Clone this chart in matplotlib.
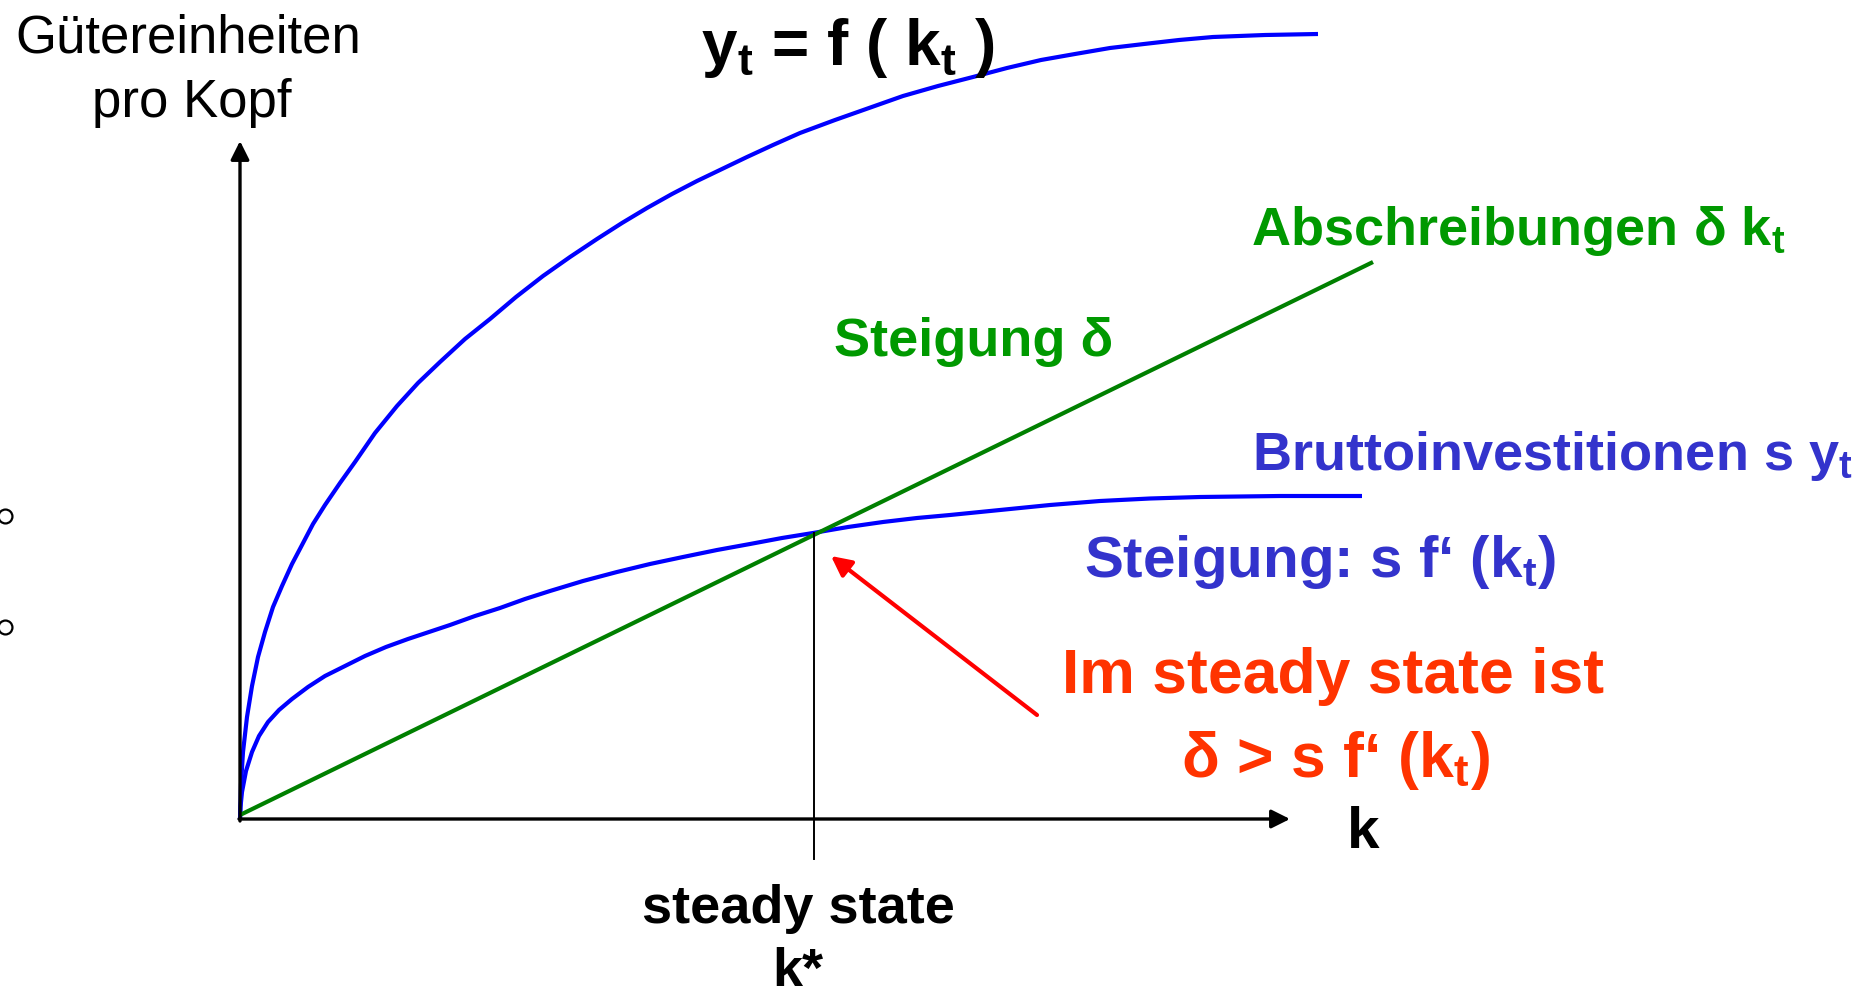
import matplotlib
matplotlib.use('Agg')
import matplotlib.pyplot as plt

plt.rcParams['font.family'] = ['Liberation Sans', 'DejaVu Sans']
plt.rcParams['mathtext.fontset'] = 'custom'
plt.rcParams['mathtext.rm'] = 'Liberation Sans:bold'
plt.rcParams['mathtext.it'] = 'Liberation Sans:bold'
plt.rcParams['mathtext.bf'] = 'Liberation Sans:bold'

# production function y = f(k)
k_prod = [0, 0.01, 0.03, 0.07, 0.12, 0.18, 0.25, 0.33, 0.42, 0.52, 0.62, 0.73,
          0.85, 1.00, 1.15, 1.35, 1.57, 1.78, 2.00, 2.25, 2.50, 2.76, 3.03,
          3.30, 3.57, 3.82, 4.07, 4.32, 4.57, 4.82, 5.07, 5.33, 5.60, 5.95,
          6.29, 6.63, 6.98, 7.33, 7.67, 8.01, 8.35, 8.70, 9.04, 9.39, 9.73,
          10.25, 10.78]
y_prod = [0, 0.35, 0.67, 1.02, 1.33, 1.62, 1.87, 2.12, 2.33, 2.55, 2.74, 2.95,
          3.14, 3.36, 3.57, 3.86, 4.13, 4.36, 4.57, 4.80, 5.00, 5.22, 5.43,
          5.62, 5.80, 5.96, 6.11, 6.25, 6.38, 6.50, 6.62, 6.74, 6.86, 6.99,
          7.11, 7.23, 7.33, 7.42, 7.51, 7.59, 7.65, 7.71, 7.75, 7.79, 7.82,
          7.84, 7.85]

# gross investment s*y
k_inv = [0, 0.005, 0.02, 0.06, 0.12, 0.19, 0.28, 0.39, 0.52, 0.68, 0.85, 1.05,
         1.25, 1.46, 1.68, 1.89, 2.10, 2.35, 2.60, 2.85, 3.10, 3.43, 3.77,
         4.10, 4.43, 4.77, 5.10, 5.42, 5.73, 6.08, 6.43, 6.77, 7.10, 7.60,
         8.10, 8.60, 9.10, 9.60, 10.40, 11.22]
y_inv = [0, 0.12, 0.27, 0.48, 0.67, 0.83, 0.97, 1.09, 1.20, 1.32, 1.43, 1.53,
         1.63, 1.72, 1.80, 1.87, 1.94, 2.03, 2.11, 2.20, 2.28, 2.38, 2.47,
         2.55, 2.62, 2.69, 2.75, 2.81, 2.86, 2.92, 2.97, 3.01, 3.04, 3.09,
         3.14, 3.18, 3.205, 3.22, 3.23, 3.23]

# depreciation delta*k
k_dep = [0, 11.33]
y_dep = [0.04, 5.57]

k_star = 5.74
y_star = 2.86

fig = plt.figure(figsize=(18.6, 9.95), dpi=100)
ax = fig.add_axes([0, 0, 1, 1])
ax.set_xlim(-2.40, 16.20)
ax.set_ylim(-1.75, 8.20)
ax.axis('off')

ax.plot(k_prod, y_prod, color='#0000FF', lw=3.0, solid_capstyle='butt',
        solid_joinstyle='round')
ax.plot(k_inv, y_inv, color='#0000FF', lw=3.0, solid_capstyle='butt',
        solid_joinstyle='round')
ax.plot(k_dep, y_dep, color='#008000', lw=3.0, solid_capstyle='butt')
ax.plot([k_star, k_star], [y_star, -0.40], color='black', lw=1.4)

# axes with arrow heads
ax.annotate('', xy=(0, 6.78), xytext=(0, -0.02),
            arrowprops=dict(arrowstyle='-|>', lw=2.4, color='black',
                            mutation_scale=28, shrinkA=0, shrinkB=0))
ax.annotate('', xy=(10.50, 0), xytext=(-0.01, 0),
            arrowprops=dict(arrowstyle='-|>', lw=2.4, color='black',
                            mutation_scale=28, shrinkA=0, shrinkB=0))

# red arrow to the steady state
ax.annotate('', xy=(5.91, 2.63), xytext=(7.97, 1.04),
            arrowprops=dict(arrowstyle='-|>', lw=3.0, color='#FF0000',
                            mutation_scale=30, shrinkA=0, shrinkB=0))

# bullet circles at the left edge
ax.plot([-2.35, -2.35], [3.03, 1.92], 'o', ms=10, mfc='none', mec='black', mew=1.6)

ax.text(-0.52, 7.67, 'Gütereinheiten', fontsize=38, ha='center', va='baseline')
ax.text(-0.48, 7.03, 'pro Kopf', fontsize=38, ha='center', va='baseline')

ax.text(6.08, 7.55, 'y$_t$ = f ( k$_t$ )', fontsize=46, fontweight='bold',
        ha='center', va='baseline')

green = '#009900'
ax.text(10.11, 5.75, 'Abschreibungen δ k$_t$', fontsize=39, fontweight='bold',
        color=green, ha='left', va='baseline')
ax.text(5.94, 4.64, 'Steigung δ', fontsize=39, fontweight='bold',
        color=green, ha='left', va='baseline')

blue = '#3333CC'
ax.text(10.12, 3.50, 'Bruttoinvestitionen s y$_t$', fontsize=39, fontweight='bold',
        color=blue, ha='left', va='baseline')
ax.text(8.44, 2.43, 'Steigung: s f‘ (k$_t$)', fontsize=42, fontweight='bold',
        color=blue, ha='left', va='baseline')

red = '#FF3300'
ax.text(10.93, 1.27, 'Im steady state ist', fontsize=45, fontweight='bold',
        color=red, ha='center', va='baseline')
ax.text(10.95, 0.43, 'δ > s f‘ (k$_t$)', fontsize=45, fontweight='bold',
        color=red, ha='center', va='baseline')

ax.text(11.23, -0.28, 'k', fontsize=42, fontweight='bold', ha='center', va='baseline')
ax.text(5.58, -1.03, 'steady state', fontsize=39, fontweight='bold',
        ha='center', va='baseline')
ax.text(5.58, -1.66, 'k*', fontsize=39, fontweight='bold', ha='center', va='baseline')

fig.savefig('out.png', dpi=100)
